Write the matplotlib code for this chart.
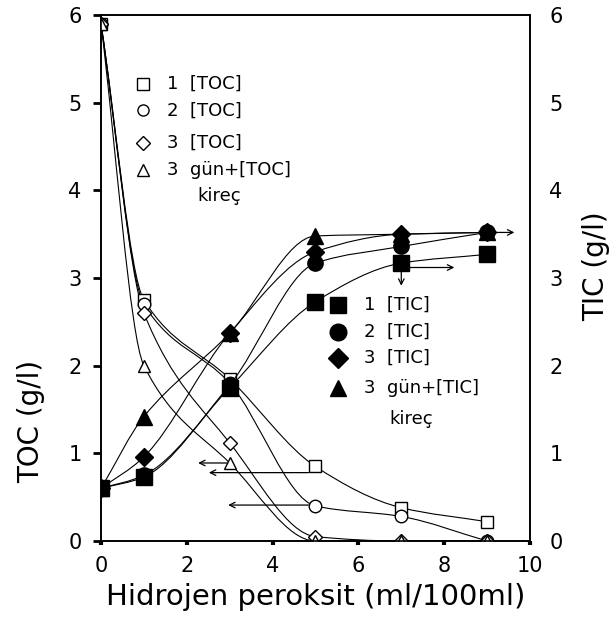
import numpy as np
import matplotlib
matplotlib.use("Agg")
import matplotlib.pyplot as plt
from matplotlib.path import Path
from matplotlib.patches import PathPatch

plt.rcParams["font.family"] = ["DejaVu Sans"]

# hydrogen peroxide dose (ml/100ml)
h2o2 = [0, 1, 3, 5, 7, 9]

# total organic carbon (g/l), left axis
toc_1 = [5.9, 2.75, 1.85, 0.85, 0.38, 0.22]
toc_2 = [5.9, 2.70, 1.80, 0.40, 0.28, 0.0]
toc_3 = [5.9, 2.60, 1.12, 0.05, 0.0, 0.0]
toc_kirec = [5.9, 2.00, 0.89, 0.0, 0.0, 0.0]

# total inorganic carbon (g/l), right axis
tic_1 = [0.6, 0.73, 1.75, 2.73, 3.17, 3.27]
tic_2 = [0.6, 0.75, 1.78, 3.17, 3.36, 3.52]
tic_3 = [0.6, 0.96, 2.37, 3.30, 3.50, 3.52]
tic_kirec = [0.6, 1.42, 2.37, 3.48, 3.50, 3.52]

toc_labels = ["1  [TOC]", "2  [TOC]", "3  [TOC]", "3  gün+[TOC]"]
tic_labels = ["1  [TIC]", "2  [TIC]", "3  [TIC]", "3  gün+[TIC]"]
markers = ["s", "o", "D", "^"]


def smooth_curve(ax, x, y, **kw):
    # monotone cubic through the points, drawn as bezier segments
    x = np.asarray(x, float)
    y = np.asarray(y, float)
    h = np.diff(x)
    d = np.diff(y) / h
    m = np.zeros_like(y)
    m[0], m[-1] = d[0], d[-1]
    for k in range(1, len(x) - 1):
        if d[k - 1] * d[k] > 0:
            m[k] = 2.0 / (1.0 / d[k - 1] + 1.0 / d[k])
    verts = [(x[0], y[0])]
    codes = [Path.MOVETO]
    for k in range(len(x) - 1):
        verts += [(x[k] + h[k] / 3, y[k] + m[k] * h[k] / 3),
                  (x[k + 1] - h[k] / 3, y[k + 1] - m[k + 1] * h[k] / 3),
                  (x[k + 1], y[k + 1])]
        codes += [Path.CURVE4] * 3
    ax.add_patch(PathPatch(Path(verts, codes), fill=False, **kw))


fig = plt.figure(figsize=(6.15, 6.24), dpi=100)
ax = fig.add_axes([0.1642, 0.1330, 0.6976, 0.8429])
ax2 = ax.twinx()

for a in (ax, ax2):
    a.set_xlim(0, 10)
    a.set_ylim(0, 6)

for vals, mk in zip([toc_1, toc_2, toc_3, toc_kirec], markers):
    smooth_curve(ax, h2o2, vals, color="black", lw=0.8, zorder=2)
    ax.plot(h2o2, vals, ls="none", marker=mk, ms=9 if mk != "D" else 7,
            mfc="white", mec="black", mew=1.0, zorder=3)

for vals, mk in zip([tic_1, tic_2, tic_3, tic_kirec], markers):
    smooth_curve(ax2, h2o2, vals, color="black", lw=0.8, zorder=2)
    ax2.plot(h2o2, vals, ls="none", marker=mk, ms=11 if mk != "D" else 9,
             color="black", zorder=3)

# arrows pointing to the axis each series belongs to
arrow = dict(arrowstyle="->", color="black", lw=0.9)
ax.annotate("", xy=(2.2, 0.89), xytext=(3.0, 0.89), arrowprops=arrow)
ax.annotate("", xy=(2.45, 0.78), xytext=(4.9, 0.78), arrowprops=arrow)
ax.annotate("", xy=(2.9, 0.41), xytext=(4.9, 0.41), arrowprops=arrow)
ax2.annotate("", xy=(9.7, 3.52), xytext=(8.9, 3.52), arrowprops=arrow)
ax2.annotate("", xy=(8.3, 3.12), xytext=(7.0, 3.12), arrowprops=arrow)
ax2.annotate("", xy=(7.0, 2.88), xytext=(7.0, 3.12), arrowprops=arrow)

# legend for the open (TOC) symbols
lfs = 13
rows = [0.869, 0.819, 0.757, 0.705]
for yy, mk, lab in zip(rows, markers, toc_labels):
    ax.plot(0.098, yy, transform=ax.transAxes, marker=mk, ms=8 if mk != "D" else 7,
            mfc="white", mec="black", mew=1.0, ls="none", clip_on=False)
    ax.text(0.155, yy, lab, transform=ax.transAxes, fontsize=lfs, va="center")
ax.text(0.225, 0.655, "kireç", transform=ax.transAxes, fontsize=lfs, va="center")

# legend for the filled (TIC) symbols
rows = [0.449, 0.397, 0.348, 0.291]
for yy, mk, lab in zip(rows, markers, tic_labels):
    ax2.plot(0.552, yy, transform=ax2.transAxes, marker=mk, ms=12 if mk != "D" else 10,
             color="black", ls="none", clip_on=False)
    ax2.text(0.612, yy, lab, transform=ax2.transAxes, fontsize=lfs, va="center")
ax2.text(0.672, 0.232, "kireç", transform=ax2.transAxes, fontsize=lfs, va="center")

ax.set_xticks([0, 2, 4, 6, 8, 10])
ax.set_yticks(range(7))
ax2.set_yticks(range(7))
ax.tick_params(axis="y", direction="out", length=6, width=2, labelsize=15, pad=8)
ax.tick_params(axis="x", direction="out", length=3, width=3, labelsize=15, pad=8)
ax2.tick_params(axis="y", length=0, labelsize=15, pad=14)

for a in (ax, ax2):
    for s in a.spines.values():
        s.set_linewidth(1.2)

ax.set_xlabel("Hidrojen peroksit (ml/100ml)", fontsize=21)
ax.set_ylabel("TOC (g/l)", fontsize=20)
ax2.set_ylabel("TIC (g/l)", fontsize=20)
ax.xaxis.set_label_coords(0.5, -0.08)
ax.yaxis.set_label_coords(-0.13, 0.228)
ax2.yaxis.set_label_coords(1.121, 0.523)

fig.savefig("out.png", dpi=100)
